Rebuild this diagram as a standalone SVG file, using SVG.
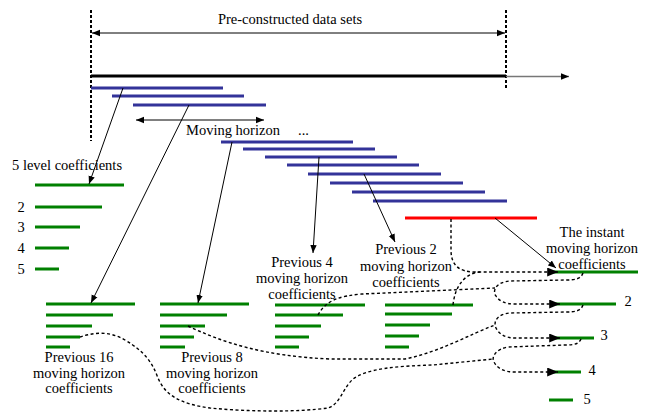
<svg xmlns="http://www.w3.org/2000/svg" width="648" height="414" viewBox="0 0 648 414">
<style>
text{font-family:"Liberation Serif","Times New Roman",serif;font-size:14.5px;fill:#000}
.c{text-anchor:middle}
.vd{stroke:#000;stroke-width:2;stroke-dasharray:3 2;fill:none}
.blue{stroke:#333399;stroke-width:3}
.green{stroke:#008000;stroke-width:3}
.red{stroke:#ff0000;stroke-width:3}
.arr{stroke:#000;stroke-width:1;fill:none;marker-end:url(#ah)}
.dsh{stroke:#000;stroke-width:1.4;stroke-dasharray:3 2.5;fill:none}
.dar{marker-end:url(#big)}
</style>
<defs>
<marker id="ah" viewBox="0 0 10 10" refX="10" refY="5" markerWidth="8" markerHeight="8" markerUnits="userSpaceOnUse" orient="auto-start-reverse"><path d="M0,1 L10,5 L0,9 z" fill="#000"/></marker>
<marker id="big" viewBox="0 0 12 10" refX="12" refY="5" markerWidth="12" markerHeight="9" markerUnits="userSpaceOnUse" orient="auto"><path d="M0,0 L12,5 L0,10 z" fill="#000"/></marker>
</defs>
<rect width="648" height="414" fill="#fff"/>

<g id="data-sets">
<line class="vd" x1="91" y1="10" x2="91" y2="141"/>
<line class="vd" x1="506" y1="10" x2="506" y2="88"/>
<line x1="92" y1="33" x2="505" y2="33" stroke="#000" stroke-width="1" marker-start="url(#ah)" marker-end="url(#ah)"/>
<text class="c" x="290" y="24">Pre-constructed data sets</text>
</g>

<g id="timeline">
<line x1="91" y1="76" x2="506" y2="76" stroke="#000" stroke-width="3"/>
<line x1="506" y1="76.5" x2="569" y2="76.5" stroke="#777" stroke-width="1.5" marker-end="url(#ah)"/>
</g>

<g id="windows">
<line class="blue" x1="91" y1="88" x2="223" y2="88"/>
<line class="blue" x1="112" y1="96" x2="244" y2="96"/>
<line class="blue" x1="133" y1="105" x2="266" y2="105"/>
<line class="blue" x1="221" y1="142" x2="353" y2="142"/>
<line class="blue" x1="243" y1="149" x2="375" y2="149"/>
<line class="blue" x1="265" y1="157" x2="397" y2="157"/>
<line class="blue" x1="287" y1="165" x2="419" y2="165"/>
<line class="blue" x1="308" y1="174" x2="441" y2="174"/>
<line class="blue" x1="330" y1="183" x2="463" y2="183"/>
<line class="blue" x1="352" y1="192" x2="485" y2="192"/>
<line class="blue" x1="373" y1="201" x2="507" y2="201"/>
<line class="red" x1="405" y1="218" x2="537" y2="218"/>
<text x="298" y="135">...</text>
</g>

<g id="moving-horizon">
<line x1="136" y1="120" x2="264" y2="120" stroke="#000" stroke-width="1" marker-start="url(#ah)" marker-end="url(#ah)"/>
<text class="c" x="233" y="135">Moving horizon</text>
</g>

<g id="level-coefficients">
<text x="12" y="170">5 level coefficients</text>
<line class="green" x1="35" y1="185" x2="124" y2="185"/>
<line class="green" x1="35" y1="207" x2="102" y2="207"/>
<line class="green" x1="35" y1="227" x2="80" y2="227"/>
<line class="green" x1="35" y1="248" x2="69" y2="248"/>
<line class="green" x1="35" y1="269" x2="59" y2="269"/>
<text class="c" x="21" y="212">2</text>
<text class="c" x="21" y="232">3</text>
<text class="c" x="21" y="253">4</text>
<text class="c" x="21" y="274">5</text>
</g>

<g id="previous-16">
<line class="green" x1="46" y1="304" x2="135" y2="304"/>
<line class="green" x1="46" y1="315" x2="113" y2="315"/>
<line class="green" x1="46" y1="326" x2="92" y2="326"/>
<line class="green" x1="46" y1="337" x2="80" y2="337"/>
<line class="green" x1="46" y1="347" x2="70" y2="347"/>
<text class="c" x="79" y="362">Previous 16</text>
<text class="c" x="79" y="378">moving horizon</text>
<text class="c" x="79" y="393">coefficients</text>
</g>

<g id="previous-8">
<line class="green" x1="160" y1="304" x2="249" y2="304"/>
<line class="green" x1="160" y1="315" x2="227" y2="315"/>
<line class="green" x1="160" y1="326" x2="205" y2="326"/>
<line class="green" x1="160" y1="337" x2="194" y2="337"/>
<line class="green" x1="160" y1="347" x2="185" y2="347"/>
<text class="c" x="212" y="362">Previous 8</text>
<text class="c" x="212" y="378">moving horizon</text>
<text class="c" x="212" y="393">coefficients</text>
</g>

<g id="previous-4">
<line class="green" x1="275" y1="305" x2="365" y2="305"/>
<line class="green" x1="275" y1="315" x2="343" y2="315"/>
<line class="green" x1="275" y1="326" x2="321" y2="326"/>
<line class="green" x1="275" y1="337" x2="309" y2="337"/>
<line class="green" x1="275" y1="347" x2="299" y2="347"/>
<text class="c" x="302" y="267">Previous 4</text>
<text class="c" x="302" y="283">moving horizon</text>
<text class="c" x="302" y="299">coefficients</text>
</g>

<g id="previous-2">
<line class="green" x1="385" y1="305" x2="473" y2="305"/>
<line class="green" x1="385" y1="314" x2="452" y2="314"/>
<line class="green" x1="385" y1="325" x2="430" y2="325"/>
<line class="green" x1="385" y1="336" x2="419" y2="336"/>
<line class="green" x1="385" y1="347" x2="409" y2="347"/>
<text class="c" x="406" y="254">Previous 2</text>
<text class="c" x="406" y="271">moving horizon</text>
<text class="c" x="406" y="287">coefficients</text>
</g>

<g id="instant">
<line class="green" x1="548" y1="272" x2="638" y2="272"/>
<line class="green" x1="552" y1="304" x2="616" y2="304"/>
<line class="green" x1="552" y1="338" x2="594" y2="338"/>
<line class="green" x1="550" y1="372" x2="581" y2="372"/>
<line class="green" x1="549" y1="400" x2="573" y2="400"/>
<text class="c" x="592" y="237">The instant</text>
<text class="c" x="592" y="253">moving horizon</text>
<text class="c" x="592" y="269">coefficients</text>
<text class="c" x="628" y="306">2</text>
<text class="c" x="604" y="340">3</text>
<text class="c" x="592" y="375">4</text>
<text class="c" x="587" y="404">5</text>
</g>

<g id="connectors">
<line class="arr" x1="123" y1="88" x2="89" y2="184"/>
<line class="arr" x1="189" y1="105" x2="91" y2="303"/>
<line class="arr" x1="232" y1="142" x2="198" y2="303"/>
<line class="arr" x1="319" y1="157" x2="313" y2="253"/>
<line class="arr" x1="364" y1="174" x2="395" y2="242"/>
<line class="arr" x1="495" y1="218" x2="556" y2="268"/>
<path class="dsh dar" d="M451,219 L451,250 C451,266 460,272 475,272 L558,272"/>
<path class="dsh" d="M453,305 C455,286 465,273 480,272"/>
<path class="dsh dar" d="M583,273 C581,279 575,280 566,280 L510,281 C496,282 492,291 496,296 C499,301 505,304 515,304 L560,304"/>
<path class="dsh" d="M318,315 C326,300 340,296 362,294 L495,288"/>
<path class="dsh dar" d="M583,305 C581,311 575,312 566,312 L510,313 C497,314 493,322 496,328 C499,334 505,338 515,338 L560,338"/>
<path class="dsh" d="M188,326 C222,342 262,356 330,359 L405,359 C440,352 470,334 495,325"/>
<path class="dsh dar" d="M581,339 C579,344 574,345 565,345 L508,347 C496,349 491,357 494,362 C497,368 504,372 514,372 L558,372"/>
<path class="dsh" d="M80,337 C92,333 108,330 125,340 C145,352 152,362 158,378 C165,395 180,404 210,408 C250,412 300,412 328,408 C340,404 342,390 352,380 C365,368 400,366 433,365 L493,359"/>
</g>
</svg>
